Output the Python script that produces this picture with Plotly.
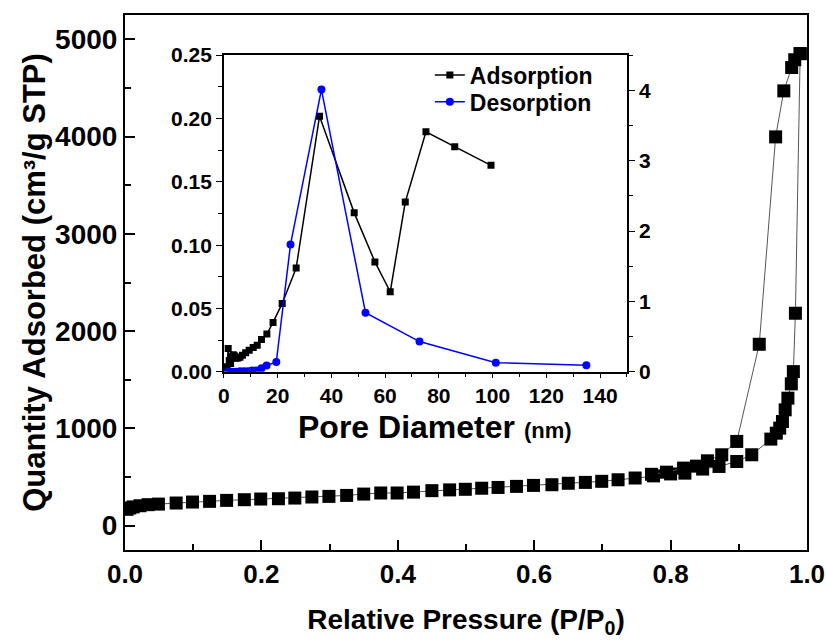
import plotly.graph_objects as go

# ---- N2 sorption isotherm (relative pressure vs. quantity adsorbed) ----
p_ads = [0.003, 0.007, 0.012, 0.022, 0.034, 0.049, 0.075, 0.099, 0.124, 0.149,
         0.175, 0.199, 0.225, 0.249, 0.274, 0.299, 0.325, 0.350, 0.375, 0.399,
         0.423, 0.450, 0.476, 0.499, 0.523, 0.547, 0.574, 0.599, 0.626, 0.650,
         0.675, 0.699, 0.723, 0.748, 0.775, 0.800, 0.821, 0.847, 0.871, 0.897,
         0.919, 0.947, 0.955, 0.960, 0.964, 0.968, 0.972, 0.977, 0.980, 0.983,
         0.990]
q_ads = [168, 182, 193, 205, 216, 222, 233, 243, 250, 260,
         267, 274, 277, 284, 295, 301, 311, 325, 336, 336,
         345, 360, 368, 374, 385, 393, 404, 414, 421, 436,
         445, 456, 472, 490, 512, 532, 540, 582, 609, 660,
         729, 890, 951, 1003, 1071, 1191, 1311, 1458, 1584, 2184,
         4853]

p_des = [0.990, 0.982, 0.9775, 0.966, 0.954, 0.930, 0.897, 0.875, 0.854, 0.838,
         0.819, 0.794, 0.772]
q_des = [4853, 4790, 4710, 4470, 3997, 1865, 866, 729, 667, 612,
         592, 550, 528]

# ---- BJH pore size distribution (inset) ----
d_ads = [1.2, 1.6, 2.0, 2.5, 3.0, 3.5, 4.0, 4.5, 5.2, 6.0, 6.9, 8.1, 9.4, 10.9,
         12.4, 14.0, 16.0, 18.3, 21.7, 26.9, 35.6, 48.5, 56.2, 61.9, 67.5,
         75.2, 85.9, 99.4]
v_ads = [0.004, 0.0185, 0.009, 0.0066, 0.012, 0.0135, 0.0125, 0.0108, 0.011,
         0.0115, 0.0132, 0.015, 0.0171, 0.0193, 0.021, 0.0256, 0.0298, 0.039,
         0.054, 0.082, 0.2018, 0.1255, 0.0868, 0.0632, 0.134, 0.1895, 0.1776,
         0.163]

d_des = [1.5, 3.0, 4.5, 6.0, 7.5, 9.0, 10.5, 12.0, 14.0, 15.9, 19.5, 24.8,
         36.3, 52.7, 72.8, 101.2, 134.9]
v_des = [0.0, 0.0, 0.0, 0.01, 0.01, 0.01, 0.02, 0.02, 0.05, 0.09, 0.14, 1.81,
         4.01, 0.84, 0.43, 0.13, 0.095]

FONT = "Liberation Sans, Arial, sans-serif"
BLUE = "#0000FF"

fig = go.Figure()

# isotherm branches
for px_, qy_ in ((p_ads, q_ads), (p_des, q_des)):
    fig.add_trace(go.Scatter(
        x=px_, y=qy_, mode="lines+markers", showlegend=False,
        line=dict(color="#555555", width=1),
        marker=dict(symbol="square", size=13, color="black"),
        xaxis="x", yaxis="y"))

# pore size distribution
fig.add_trace(go.Scatter(
    x=d_ads, y=v_ads, mode="lines+markers", name="Adsorption",
    line=dict(color="black", width=1.5),
    marker=dict(symbol="square", size=7, color="black"),
    xaxis="x2", yaxis="y2", legend="legend"))
fig.add_trace(go.Scatter(
    x=d_des, y=v_des, mode="lines+markers", name="Desorption",
    line=dict(color=BLUE, width=1.5),
    marker=dict(symbol="circle", size=8, color=BLUE),
    xaxis="x2", yaxis="y3", legend="legend2"))

axis_common = dict(showgrid=False, zeroline=False, showline=True,
                   linecolor="black", color="black", automargin=False)
legend_common = dict(xanchor="left", yanchor="top", bgcolor="rgba(0,0,0,0)",
                     borderwidth=0,
                     font=dict(size=23, family=FONT, weight="bold"))

fig.update_layout(
    width=826, height=640, autosize=False,
    margin=dict(l=125, r=19, t=15, b=90, autoexpand=False),
    paper_bgcolor="white", plot_bgcolor="white",
    font=dict(family=FONT, color="black", weight="bold"),
    xaxis=dict(**axis_common, domain=[0, 1], range=[0, 1.0], anchor="y",
               linewidth=2, mirror=True, ticks="inside", ticklen=10,
               tickwidth=1.5, dtick=0.2, tick0=0, tickformat=".1f",
               tickfont=dict(size=26, family=FONT, weight="bold"),
               minor=dict(ticks="inside", ticklen=6, dtick=0.1, tickwidth=1.5),
               title=dict(text="Relative Pressure (P/P<sub>0</sub>)",
                          font=dict(size=28, family=FONT, weight="bold"),
                          standoff=21)),
    yaxis=dict(**axis_common, domain=[0, 1], range=[-250, 5250], anchor="x",
               linewidth=2, mirror=True, ticks="inside", ticklen=10,
               tickwidth=1.5, dtick=1000, tick0=0,
               tickfont=dict(size=28, family=FONT, weight="bold"),
               minor=dict(ticks="inside", ticklen=6, dtick=500, tickwidth=1.5),
               title=dict(text="Quantity Adsorbed (cm³/g STP)",
                          font=dict(size=31, family=FONT, weight="bold"),
                          standoff=0)),
    xaxis2=dict(**axis_common, domain=[0.145, 0.736], range=[0, 150],
                anchor="y2", linewidth=1.5, mirror=True, ticks="outside",
                ticklen=4, tickwidth=1.2, dtick=20, tick0=0,
                tickfont=dict(size=21, family=FONT, weight="bold"),
                minor=dict(ticks="outside", ticklen=3, dtick=10, tickwidth=1.2)),
    yaxis2=dict(**axis_common, domain=[0.333, 0.925], range=[0, 0.25],
                anchor="x2", linewidth=1.5, mirror=True, ticks="outside",
                ticklen=6, tickwidth=1.2, dtick=0.05, tick0=0,
                tickformat=".2f",
                tickfont=dict(size=21, family=FONT, weight="bold"),
                minor=dict(ticks="outside", ticklen=4, dtick=0.025, tickwidth=1.2)),
    yaxis3=dict(**axis_common, overlaying="y2", side="right", anchor="x2",
                range=[0, 4.5], linewidth=1.5, ticks="outside", ticklen=6,
                tickwidth=1.2, dtick=1, tick0=0,
                tickfont=dict(size=21, family=FONT, weight="bold"),
                minor=dict(ticks="outside", ticklen=4, dtick=0.5, tickwidth=1.2)),
    legend=dict(x=0.447, y=0.928, **legend_common),
    legend2=dict(x=0.447, y=0.878, **legend_common),
    annotations=[dict(
        text="Pore Diameter <span style='font-size:22px'>(nm)</span>",
        xref="paper", yref="paper", x=0.4545, y=0.230,
        xanchor="center", yanchor="middle", showarrow=False,
        font=dict(size=32, family=FONT, weight="bold", color="black"))],
)

fig.write_html("out.html")
